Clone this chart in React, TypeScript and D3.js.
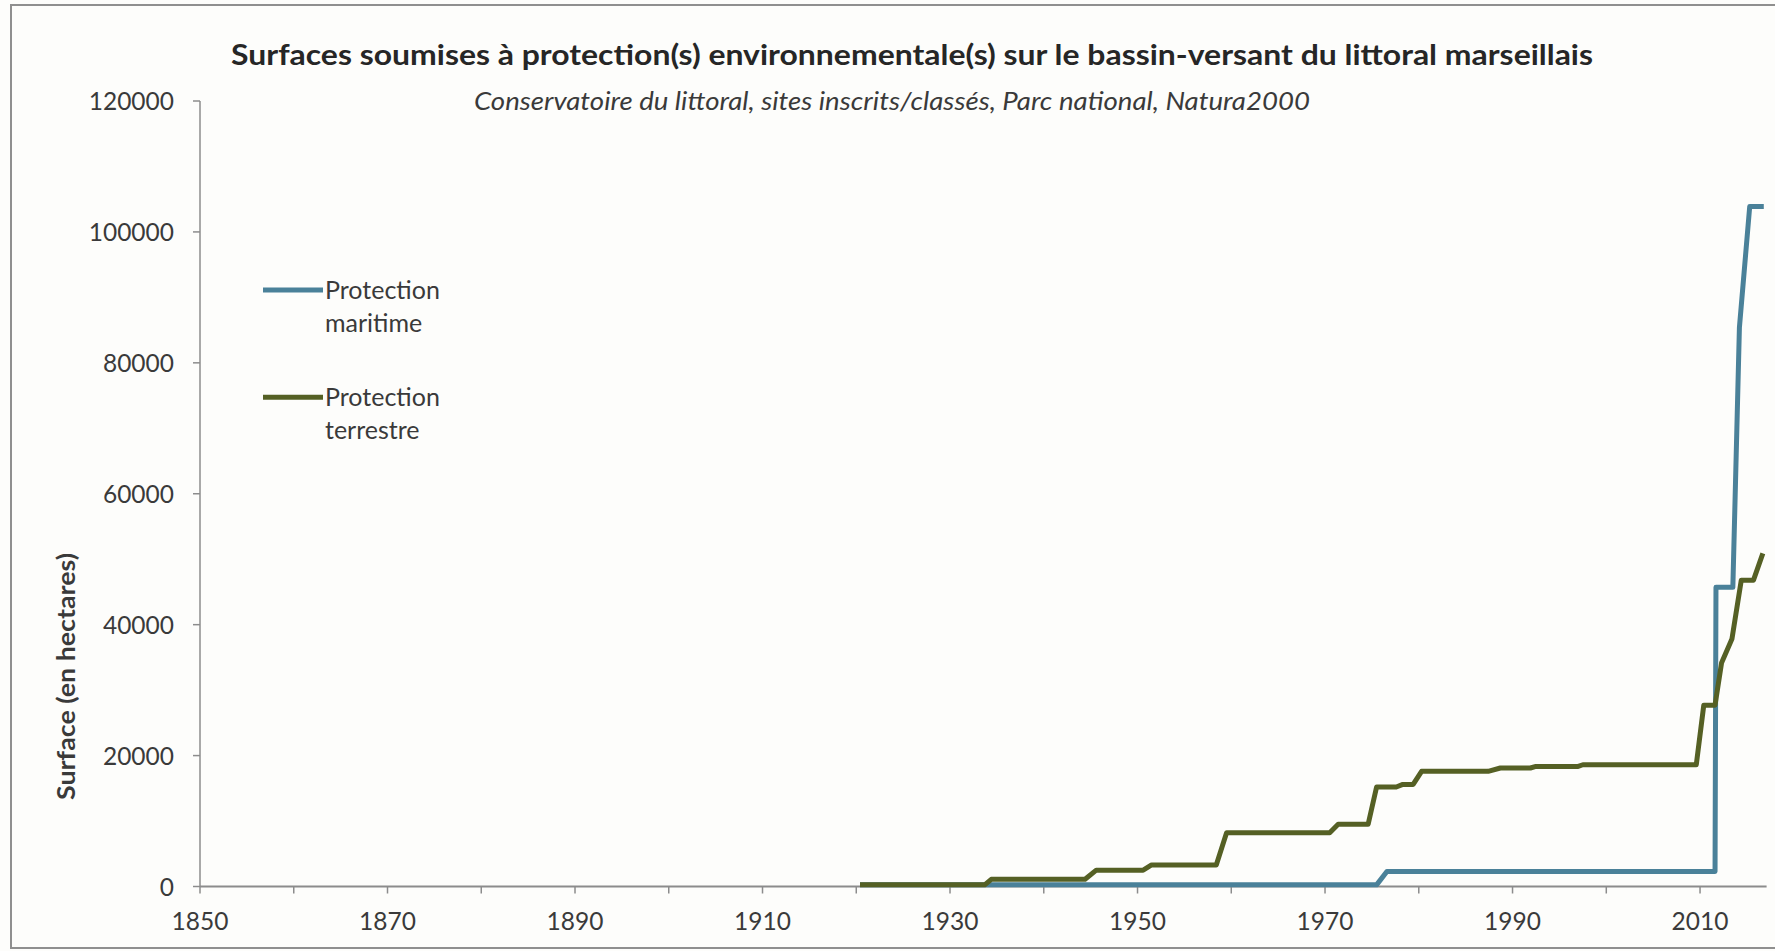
import * as d3 from 'd3';

// Axis ticks
const xTickYears = [1850, 1860, 1870, 1880, 1890, 1900, 1910, 1920, 1930, 1940, 1950, 1960, 1970, 1980, 1990, 2000, 2010];
const xLabelYears = [1850, 1870, 1890, 1910, 1930, 1950, 1970, 1990, 2010];
const yTicks = [0, 20000, 40000, 60000, 80000, 100000, 120000];

// Protection maritime (hectares)
const maritimeYears = [1920.4, 1975.5, 1976.6, 2011.6, 2011.7, 2013.5, 2014.2, 2015.3, 2016.8];
const maritimeValues = [250, 250, 2300, 2300, 45700, 45700, 85400, 103900, 103900];

// Protection terrestre (hectares)
const terrestreYears = [
  1920.4, 1933.7, 1934.4, 1944.4, 1945.6, 1950.6, 1951.5, 1958.4, 1959.5, 1970.5,
  1971.4, 1974.6, 1975.5, 1977.6, 1978.3, 1979.4, 1980.3, 1987.4, 1988.7, 1991.9,
  1992.5, 1997.0, 1997.5, 2009.6, 2010.4, 2011.6, 2012.3, 2013.4, 2014.4, 2015.7, 2016.7,
];
const terrestreValues = [
  250, 250, 1100, 1100, 2500, 2500, 3300, 3300, 8200, 8200,
  9500, 9500, 15200, 15200, 15600, 15600, 17600, 17600, 18100, 18100,
  18350, 18350, 18600, 18600, 27700, 27700, 34200, 37800, 46800, 46800, 50900,
];

const series = [
  { name: ['Protection', 'maritime'], color: '#4a8199', years: maritimeYears, values: maritimeValues },
  { name: ['Protection', 'terrestre'], color: '#556024', years: terrestreYears, values: terrestreValues },
];

const FONT = "Lato, 'Open Sans', sans-serif";
const TEXT = '#3a3a3a';
const AXIS = '#8c8c8c';

export default function App() {
  const width = 1775;
  const height = 951;

  const x = d3.scaleLinear().domain([1850, 2017.1]).range([200, 1766.6]);
  const y = d3.scaleLinear().domain([0, 120000]).range([886.5, 101]);

  const line = d3.line<[number, number]>()
    .x(d => x(d[0]))
    .y(d => y(d[1]));

  const y0 = y(0);

  return (
    <svg
      width={width}
      height={height}
      style={{ position: 'fixed', left: 0, top: 0, background: '#fdfdfb' }}
    >
      <rect x={0} y={0} width={width} height={height} fill="#fdfdfb" />
      {/* outer frame */}
      <rect x={11} y={5} width={1800} height={943} fill="none" stroke="#8f8f8f" strokeWidth={2} />

      {/* titles */}
      <text x={912} y={65} textAnchor="middle" fontFamily={FONT} fontWeight="bold" fontSize={28}
        fill="#262626" textLength={1362} lengthAdjust="spacingAndGlyphs">
        Surfaces soumises à protection(s) environnementale(s) sur le bassin-versant du littoral marseillais
      </text>
      <text x={892} y={110} textAnchor="middle" fontFamily={FONT} fontStyle="italic" fontSize={25}
        fill={TEXT} textLength={836} lengthAdjust="spacingAndGlyphs">
        Conservatoire du littoral, sites inscrits/classés, Parc national, Natura2000
      </text>

      {/* y axis */}
      <line x1={x(1850)} x2={x(1850)} y1={y(120000)} y2={y0} stroke={AXIS} strokeWidth={1.5} />
      {yTicks.map(t => (
        <g key={t}>
          <line x1={x(1850) - 7} x2={x(1850)} y1={y(t)} y2={y(t)} stroke={AXIS} strokeWidth={1.5} />
          <text x={174} y={y(t) + 9} textAnchor="end" fontFamily={FONT} fontSize={24.5} fill={TEXT}>
            {t}
          </text>
        </g>
      ))}
      <text transform="translate(75,676.5) rotate(-90)" textAnchor="middle" fontFamily={FONT}
        fontWeight="bold" fontSize={25.5} fill={TEXT} textLength={247} lengthAdjust="spacingAndGlyphs">
        Surface (en hectares)
      </text>

      {/* x axis */}
      <line x1={x(1850)} x2={x(2017.1)} y1={y0} y2={y0} stroke={AXIS} strokeWidth={1.8} />
      {xTickYears.map(t => (
        <line key={t} x1={x(t)} x2={x(t)} y1={y0} y2={y0 + 7} stroke={AXIS} strokeWidth={1.5} />
      ))}
      {xLabelYears.map(t => (
        <text key={t} x={x(t)} y={930} textAnchor="middle" fontFamily={FONT} fontSize={24.5} fill={TEXT}>
          {t}
        </text>
      ))}

      {/* series */}
      {series.map(s => (
        <path
          key={s.name.join(' ')}
          d={line(s.years.map((yr, i) => [yr, s.values[i]] as [number, number])) ?? ''}
          fill="none"
          stroke={s.color}
          strokeWidth={5}
          strokeLinejoin="round"
        />
      ))}

      {/* legend */}
      {series.map((s, i) => {
        const ly = 290 + i * 107.3;
        return (
          <g key={s.name.join(' ')}>
            <line x1={263} x2={323} y1={ly} y2={ly} stroke={s.color} strokeWidth={5} />
            <text x={325} y={ly + 9} fontFamily={FONT} fontSize={25} fill={TEXT}>{s.name[0]}</text>
            <text x={325} y={ly + 41.5} fontFamily={FONT} fontSize={25} fill={TEXT}>{s.name[1]}</text>
          </g>
        );
      })}
    </svg>
  );
}
